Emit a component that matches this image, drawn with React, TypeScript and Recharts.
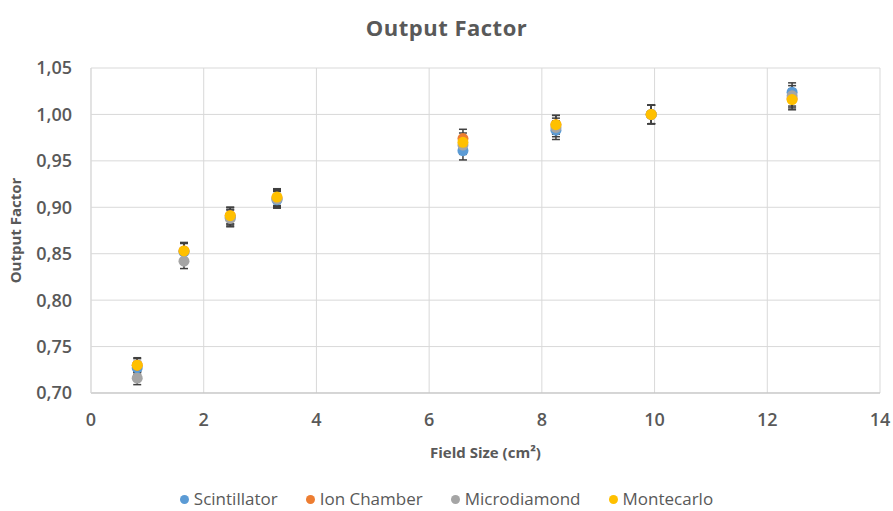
import React from 'react';
import { CartesianGrid, ErrorBar, Legend, Scatter, ScatterChart, XAxis, YAxis } from 'recharts';

const fieldSizes = [0.82, 1.65, 2.47, 3.3, 6.6, 8.25, 9.94, 12.44];
const scintillator = [0.727, 0.852, 0.889, 0.908, 0.961, 0.983, 1.0, 1.024];
const ionChamber = [0.73, 0.853, 0.891, 0.91, 0.974, 0.989, 1.0, 1.017];
const microdiamond = [0.716, 0.842, 0.888, 0.909, 0.967, 0.986, 1.0, 1.02];
const montecarlo = [0.73, 0.853, 0.891, 0.911, 0.97, 0.989, 1.0, 1.016];

const scintillatorErr = [0.007, 0.009, 0.009, 0.009, 0.01, 0.01, 0.01, 0.01];
const ionChamberErr = [0.007, 0.009, 0.009, 0.009, 0.01, 0.01, 0.01, 0.01];
const microdiamondErr = [0.007, 0.008, 0.009, 0.009, 0.01, 0.01, 0.01, 0.011];
const montecarloErr = [0.008, 0.009, 0.009, 0.009, 0.01, 0.01, 0.01, 0.011];

const xTicks = [0, 2, 4, 6, 8, 10, 12, 14];
const yTicks = [0.7, 0.75, 0.8, 0.85, 0.9, 0.95, 1.0, 1.05];

const FONT = '"Open Sans", sans-serif';
const TEXT = '#595959';

const build = (values: number[], errs: number[]) =>
  fieldSizes.map((x, i) => ({ x, y: values[i], err: errs[i] }));

const series = [
  { name: 'Scintillator', color: '#5B9BD5', data: build(scintillator, scintillatorErr) },
  { name: 'Ion Chamber', color: '#ED7D31', data: build(ionChamber, ionChamberErr) },
  { name: 'Microdiamond', color: '#A5A5A5', data: build(microdiamond, microdiamondErr) },
  { name: 'Montecarlo', color: '#FFC000', data: build(montecarlo, montecarloErr) },
];
const seriesOrder = series.map((s) => s.name);

const dot = (color: string) => (props: any) => (
  <circle cx={props.cx} cy={props.cy} r={5.5} fill={color} />
);

const renderLegend = (props: any) => {
  const items = [...(props.payload || [])].sort(
    (a: any, b: any) => seriesOrder.indexOf(a.value) - seriesOrder.indexOf(b.value)
  );
  return (
    <div
      style={{
        display: 'flex',
        justifyContent: 'center',
        paddingTop: 2,
        height: 24,
        lineHeight: '24px',
        fontFamily: FONT,
        fontSize: 17,
        color: TEXT,
      }}
    >
      {items.map((entry: any, i: number) => (
        <span
          key={entry.value}
          style={{ display: 'inline-flex', alignItems: 'center', marginRight: i < items.length - 1 ? 28 : 0 }}
        >
          <svg width={9} height={9}>
            <circle cx={4.5} cy={4.5} r={4.5} fill={entry.color} />
          </svg>
          <span style={{ marginLeft: 5, whiteSpace: 'nowrap' }}>{entry.value}</span>
        </span>
      ))}
    </div>
  );
};

const YLabel = (props: any) => {
  const vb = props.viewBox || { x: 0, y: 68, width: 91, height: 325 };
  const cx = vb.x + 15;
  const cy = vb.y + vb.height / 2;
  return (
    <text
      x={cx}
      y={cy}
      transform={`rotate(-90, ${cx}, ${cy})`}
      textAnchor="middle"
      dominantBaseline="central"
      fontFamily={FONT}
      fontSize={15}
      fontWeight={700}
      fill={TEXT}
    >
      Output Factor
    </text>
  );
};

const XLabel = (props: any) => {
  const vb = props.viewBox || { x: 91, y: 393, width: 789, height: 92 };
  return (
    <text
      x={vb.x + vb.width / 2}
      y={vb.y + 59}
      textAnchor="middle"
      dominantBaseline="central"
      fontFamily={FONT}
      fontSize={15}
      fontWeight={700}
      fill={TEXT}
    >
      Field Size (cm²)
    </text>
  );
};

const tickStyle = { fontFamily: FONT, fontSize: 18, fontWeight: 600, fill: TEXT };

export default function App() {
  return (
    <div style={{ position: 'absolute', left: 0, top: 0, width: 893, height: 511, background: '#fff' }}>
      <div
        style={{
          position: 'absolute',
          left: 0,
          top: 12,
          width: 893,
          textAlign: 'center',
          fontFamily: FONT,
          fontSize: 22,
          fontWeight: 700,
          letterSpacing: 0.5,
          lineHeight: '30px',
          color: TEXT,
          zIndex: 1,
        }}
      >
        Output Factor
      </div>
      <ScatterChart width={893} height={511} margin={{ top: 68, right: 13, bottom: 0, left: 0 }}>
        <CartesianGrid stroke="#d9d9d9" strokeWidth={1} />
        <XAxis
          type="number"
          dataKey="x"
          domain={[0, 14]}
          ticks={xTicks}
          height={92}
          tickSize={0}
          tickMargin={20}
          tickLine={false}
          axisLine={{ stroke: '#bfbfbf' }}
          tick={tickStyle}
          label={<XLabel />}
        />
        <YAxis
          type="number"
          dataKey="y"
          domain={[0.7, 1.05]}
          ticks={yTicks}
          width={91}
          tickSize={0}
          tickMargin={19}
          tickLine={false}
          axisLine={{ stroke: '#d9d9d9' }}
          tick={tickStyle}
          tickFormatter={(v: number) => v.toFixed(2).replace('.', ',')}
          label={<YLabel />}
        />
        <Legend
          verticalAlign="bottom"
          content={renderLegend}
          wrapperStyle={{ left: 0, width: 893 }}
        />
        {series.map((s) => (
          <Scatter
            key={s.name}
            name={s.name}
            data={s.data}
            fill={s.color}
            shape={dot(s.color)}
            isAnimationActive={false}
          >
            <ErrorBar dataKey="err" direction="y" width={4} strokeWidth={1.5} stroke="#404040" />
          </Scatter>
        ))}
      </ScatterChart>
    </div>
  );
}
